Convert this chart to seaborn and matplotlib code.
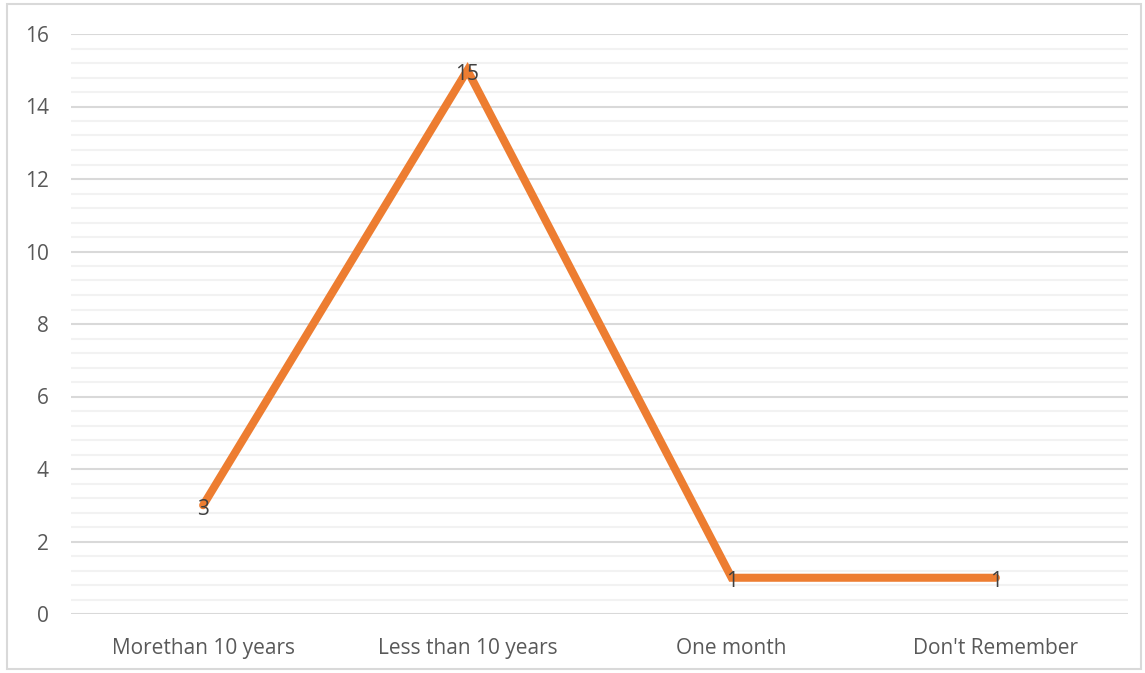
import matplotlib
matplotlib.use("Agg")
import matplotlib.pyplot as plt
from matplotlib.patches import Rectangle
from matplotlib.ticker import MultipleLocator
import seaborn as sns
import pandas as pd

categories = ["Morethan 10 years", "Less than 10 years", "One month", "Don't Remember"]
counts = [3, 15, 1, 1]

sns.set_theme(style="white")
plt.rcParams["font.family"] = ["Open Sans", "DejaVu Sans"]

df = pd.DataFrame({"period": categories, "count": counts})

fig = plt.figure(figsize=(11.45, 6.73), dpi=100)
ax = fig.add_axes([71 / 1145, 1 - 614 / 673, (1128 - 71) / 1145, (614 - 34) / 673])

sns.lineplot(data=df, x="period", y="count", sort=False, ax=ax,
             color="#ED7D31", linewidth=5.8, solid_capstyle="round",
             solid_joinstyle="miter")

ax.set_xlim(-0.5, len(categories) - 0.5)
ax.set_ylim(0, 16)
ax.yaxis.set_major_locator(MultipleLocator(2))
ax.yaxis.set_minor_locator(MultipleLocator(0.4))
ax.grid(which="major", axis="y", color="#D9D9D9", linewidth=1.5, zorder=0)
ax.grid(which="minor", axis="y", color="#F2F2F2", linewidth=1.5, zorder=0)
ax.set_axisbelow(True)
for s in ax.spines.values():
    s.set_visible(False)

ax.set_xlabel("")
ax.set_ylabel("")
ax.tick_params(axis="both", which="both", length=0, labelsize=15, colors="#595959")
ax.tick_params(axis="x", pad=17)
ax.tick_params(axis="y", pad=16)

for i, v in enumerate(counts):
    ax.annotate(str(v), (i, v), xytext=(0, -3), textcoords="offset points",
                ha="center", va="center", fontsize=15, color="#404040", zorder=5)

fig.patches.append(Rectangle((7 / 1145, 4 / 673), 1 - 11 / 1145, 1 - 8 / 673,
                             transform=fig.transFigure, fill=False,
                             edgecolor="#D9D9D9", linewidth=1.5))

fig.savefig("out.png", dpi=100)
